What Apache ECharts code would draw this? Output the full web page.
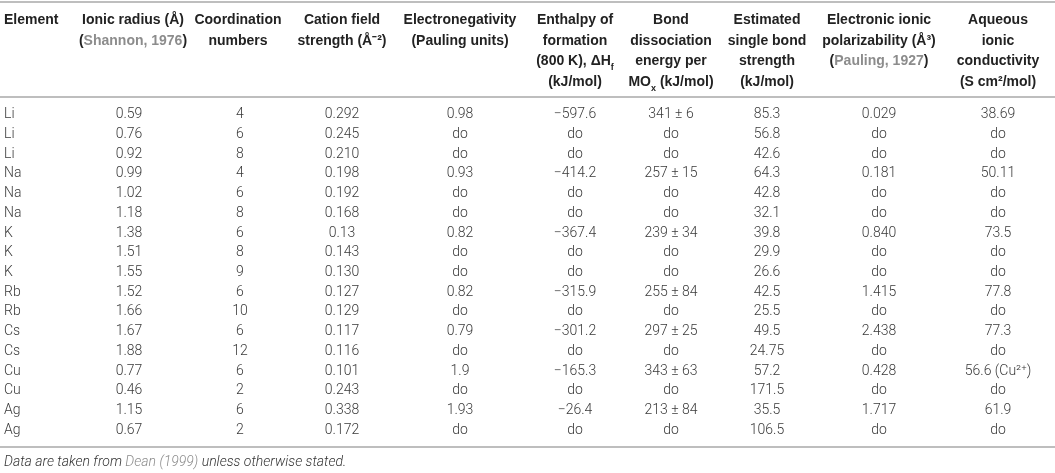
<!DOCTYPE html>
<html>
<head>
<meta charset="utf-8">
<script src="https://cdn.jsdelivr.net/npm/echarts@6.0.0/dist/echarts.min.js"></script>
<style>
  html, body { margin: 0; padding: 0; background: #fff; }
  #main { width: 1055px; height: 473px; }
</style>
</head>
<body>
<div id="main"></div>
<script>
// ------------------------------------------------------------------------
// Table data (one array per column)
// ------------------------------------------------------------------------
var elements       = ['Li', 'Li', 'Li', 'Na', 'Na', 'Na', 'K', 'K', 'K', 'Rb', 'Rb', 'Cs', 'Cs', 'Cu', 'Cu', 'Ag', 'Ag'];
var ionicRadius    = ['0.59', '0.76', '0.92', '0.99', '1.02', '1.18', '1.38', '1.51', '1.55', '1.52', '1.66', '1.67', '1.88', '0.77', '0.46', '1.15', '0.67'];
var coordination   = ['4', '6', '8', '4', '6', '8', '6', '8', '9', '6', '10', '6', '12', '6', '2', '6', '2'];
var fieldStrength  = ['0.292', '0.245', '0.210', '0.198', '0.192', '0.168', '0.13', '0.143', '0.130', '0.127', '0.129', '0.117', '0.116', '0.101', '0.243', '0.338', '0.172'];
var electroneg     = ['0.98', 'do', 'do', '0.93', 'do', 'do', '0.82', 'do', 'do', '0.82', 'do', '0.79', 'do', '1.9', 'do', '1.93', 'do'];
var enthalpy       = ['\u2212597.6', 'do', 'do', '\u2212414.2', 'do', 'do', '\u2212367.4', 'do', 'do', '\u2212315.9', 'do', '\u2212301.2', 'do', '\u2212165.3', 'do', '\u221226.4', 'do'];
var bondEnergy     = ['341 \u00b1 6', 'do', 'do', '257 \u00b1 15', 'do', 'do', '239 \u00b1 34', 'do', 'do', '255 \u00b1 84', 'do', '297 \u00b1 25', 'do', '343 \u00b1 63', 'do', '213 \u00b1 84', 'do'];
var bondStrength   = ['85.3', '56.8', '42.6', '64.3', '42.8', '32.1', '39.8', '29.9', '26.6', '42.5', '25.5', '49.5', '24.75', '57.2', '171.5', '35.5', '106.5'];
var polarizability = ['0.029', 'do', 'do', '0.181', 'do', 'do', '0.840', 'do', 'do', '1.415', 'do', '2.438', 'do', '0.428', 'do', '1.717', 'do'];
var conductivity   = ['38.69', 'do', 'do', '50.11', 'do', 'do', '73.5', 'do', 'do', '77.8', 'do', '77.3', 'do', '56.6 (Cu\u00b2\u207a)', 'do', '61.9', 'do'];

// header lines per column ({g|..} = grey citation, {s|..} = subscript)
var headers = [
    ['Element'],
    ['Ionic radius (\u00c5)', '({g|Shannon, 1976})'],
    ['Coordination', 'numbers'],
    ['Cation field', 'strength (\u00c5\u207b\u00b2)'],
    ['Electronegativity', '(Pauling units)'],
    ['Enthalpy of', 'formation', '(800 K), \u0394H{s|f}', '(kJ/mol)'],
    ['Bond', 'dissociation', 'energy per', 'MO{s|x} (kJ/mol)'],
    ['Estimated', 'single bond', 'strength', '(kJ/mol)'],
    ['Electronic ionic', 'polarizability (\u00c5\u00b3)', '({g|Pauling, 1927})'],
    ['Aqueous', 'ionic', 'conductivity', '(S cm\u00b2/mol)']
];
var footnote = 'Data are taken from {g|Dean (1999)} unless otherwise stated.';

// ------------------------------------------------------------------------
// Layout (column anchors in px, first column left aligned)
// ------------------------------------------------------------------------
var columns = [elements, ionicRadius, coordination, fieldStrength, electroneg,
               enthalpy, bondEnergy, bondStrength, polarizability, conductivity];
var headX = [4, 133, 238, 342, 460, 575, 671, 767, 879, 998];
var cellX = [4, 129, 240, 342, 460, 575, 671, 767, 879, 998];
var W = 1055;
var bodyTop = 105, bodyBottom = 440;

var dataFont = 'Roboto, "Liberation Sans", sans-serif';
var headFont = '"Liberation Sans", Arial, sans-serif';
var LH = 20.8;

var cells = [];
columns.forEach(function (col, c) {
    col.forEach(function (txt, r) {
        cells.push({ c: c, r: r, text: txt });
    });
});

var chart = echarts.init(document.getElementById('main'));

// header text + rules
var graphics = [];
headers.forEach(function (lines, c) {
    graphics.push({
        type: 'text',
        x: headX[c],
        y: 9.5,
        style: {
            text: lines.join('\n'),
            fontFamily: headFont,
            fontWeight: 'bold',
            fontSize: 14,
            lineHeight: LH,
            fill: '#222',
            align: c === 0 ? 'left' : 'center',
            verticalAlign: 'top',
            rich: {
                g: { fontFamily: headFont, fontWeight: 'bold', fontSize: 14, lineHeight: LH, fill: '#8c8c8c' },
                s: { fontFamily: headFont, fontWeight: 'bold', fontSize: 9, lineHeight: 13, fill: '#222', verticalAlign: 'bottom' }
            }
        }
    });
});
[2, 97, 447].forEach(function (y) {
    graphics.push({
        type: 'line',
        shape: { x1: 0, y1: y, x2: W, y2: y },
        style: { stroke: '#a8a8a8', lineWidth: 1.5 }
    });
});
graphics.push({
    type: 'text',
    x: 4,
    y: 462,
    style: {
        text: footnote,
        fontFamily: dataFont,
        fontStyle: 'italic',
        fontWeight: 300,
        fontSize: 14,
        fill: '#333',
        verticalAlign: 'middle',
        rich: {
            g: { fontFamily: dataFont, fontStyle: 'italic', fontWeight: 300, fontSize: 14, fill: '#8c8c8c' }
        }
    }
});

var option = {
    animation: false,
    grid: { left: 0, right: 0, top: bodyTop, bottom: 473 - bodyBottom },
    xAxis: { type: 'value', min: 0, max: W, show: false },
    yAxis: {
        type: 'category',
        inverse: true,
        data: elements.map(function (_, i) { return String(i); }),
        show: false
    },
    graphic: graphics,
    series: [{
        type: 'custom',
        data: cells.map(function (d) { return [cellX[d.c], d.r]; }),
        renderItem: function (params, api) {
            var d = cells[params.dataIndex];
            var p = api.coord([api.value(0), api.value(1)]);
            return {
                type: 'text',
                x: p[0],
                y: p[1],
                style: {
                    text: d.text,
                    fontFamily: dataFont,
                    fontWeight: 300,
                    fontSize: 14,
                    fill: '#3a3a3a',
                    align: d.c === 0 ? 'left' : 'center',
                    verticalAlign: 'middle'
                }
            };
        }
    }]
};
chart.setOption(option);
</script>
</body>
</html>
